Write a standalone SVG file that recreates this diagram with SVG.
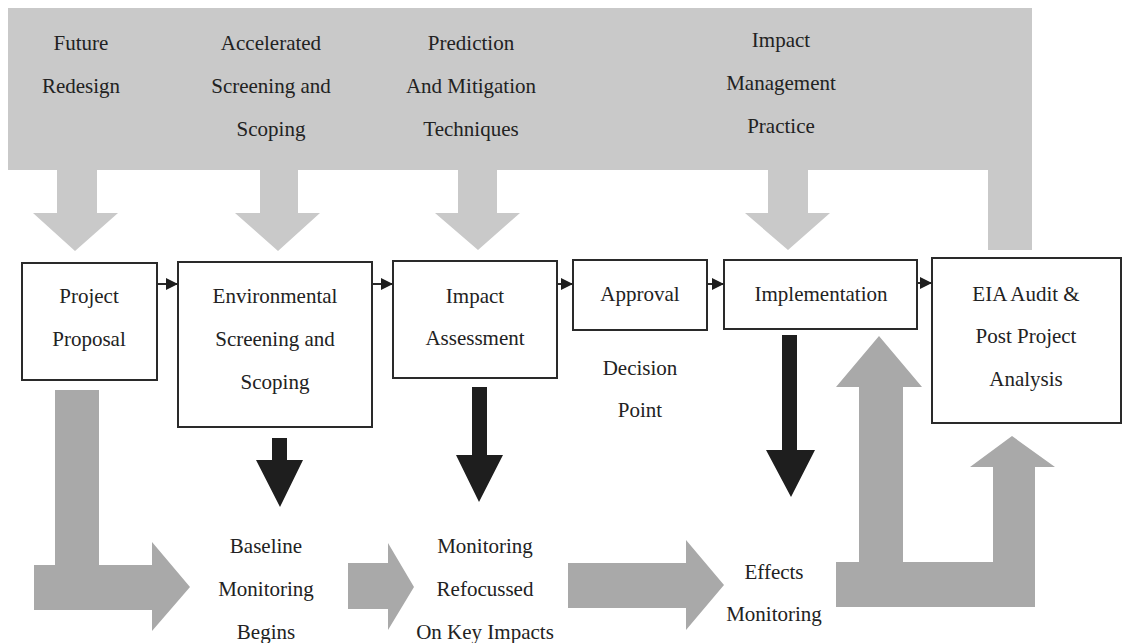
<svg xmlns="http://www.w3.org/2000/svg" width="1123" height="643" viewBox="0 0 1123 643">
<style>
text{font-family:"Liberation Serif","Times New Roman",serif;font-size:21px;fill:#222;text-anchor:middle}
.box{fill:#fff;stroke:#2a2a2a;stroke-width:2}
.light{fill:#c9c9c9}
.mid{fill:#a9a9a9}
.dark{fill:#1e1e1e}
.conn{stroke:#2a2a2a;stroke-width:2;fill:none}
</style>
<defs>
<marker id="ah" viewBox="0 0 10 10" refX="10" refY="5" markerWidth="12" markerHeight="12" markerUnits="userSpaceOnUse" orient="auto">
<path d="M0,0 L10,5 L0,10 Z" fill="#1e1e1e"/>
</marker>
</defs>

<g id="feedback-band">
<path class="light" d="M8,8 H1032 V250 H988 V170 H8 Z"/>
<path class="light" d="M57,170 H97 V213 H118 L75,251 L33,213 H57 Z"/>
<path class="light" d="M260,170 H298 V213 H320 L278,251 L235,213 H260 Z"/>
<path class="light" d="M458,170 H497 V213 H520 L478,250 L435,213 H458 Z"/>
<path class="light" d="M768,170 H808 V213 H830 L788,250 L745,213 H768 Z"/>
<text x="81" y="50">Future</text>
<text x="81" y="93">Redesign</text>
<text x="271" y="50">Accelerated</text>
<text x="271" y="93">Screening and</text>
<text x="271" y="136">Scoping</text>
<text x="471" y="50">Prediction</text>
<text x="471" y="93">And Mitigation</text>
<text x="471" y="136">Techniques</text>
<text x="781" y="47">Impact</text>
<text x="781" y="90">Management</text>
<text x="781" y="133">Practice</text>
</g>

<g id="project-proposal">
<rect class="box" x="22" y="263" width="135" height="117"/>
<text x="89" y="303">Project</text>
<text x="89" y="346">Proposal</text>
</g>
<g id="screening">
<rect class="box" x="178" y="262" width="194" height="165"/>
<text x="275" y="303">Environmental</text>
<text x="275" y="346">Screening and</text>
<text x="275" y="389">Scoping</text>
</g>
<g id="impact-assessment">
<rect class="box" x="393" y="261" width="164" height="117"/>
<text x="475" y="303">Impact</text>
<text x="475" y="345">Assessment</text>
</g>
<g id="approval">
<rect class="box" x="573" y="260" width="134" height="70"/>
<text x="640" y="301">Approval</text>
</g>
<g id="decision-point">
<text x="640" y="375">Decision</text>
<text x="640" y="417">Point</text>
</g>
<g id="implementation">
<rect class="box" x="724" y="260" width="193" height="69"/>
<text x="821" y="301">Implementation</text>
</g>
<g id="eia-audit">
<rect class="box" x="932" y="258" width="189" height="165"/>
<text x="1026" y="301">EIA Audit &amp;</text>
<text x="1026" y="343">Post Project</text>
<text x="1026" y="386">Analysis</text>
</g>
<g id="baseline-monitoring">
<text x="266" y="553">Baseline</text>
<text x="266" y="596">Monitoring</text>
<text x="266" y="639">Begins</text>
</g>
<g id="monitoring-refocussed">
<text x="485" y="553">Monitoring</text>
<text x="485" y="596">Refocussed</text>
<text x="485" y="639">On Key Impacts</text>
</g>
<g id="effects-monitoring">
<text x="774" y="579">Effects</text>
<text x="774" y="621">Monitoring</text>
</g>

<g id="connectors">
<line class="conn" x1="157" y1="284" x2="178" y2="284" marker-end="url(#ah)"/>
<line class="conn" x1="372" y1="284" x2="393" y2="284" marker-end="url(#ah)"/>
<line class="conn" x1="557" y1="284" x2="573" y2="284" marker-end="url(#ah)"/>
<line class="conn" x1="707" y1="284" x2="724" y2="284" marker-end="url(#ah)"/>
<line class="conn" x1="917" y1="283" x2="932" y2="283" marker-end="url(#ah)"/>
<path class="dark" d="M272,438 H287 V460 H303 L280,507 L256,460 H272 Z"/>
<path class="dark" d="M472,387 H487 V455 H503 L479,502 L456,455 H472 Z"/>
<path class="dark" d="M782,335 H797 V450 H815 L791,497 L766,450 H782 Z"/>
<path class="mid" d="M55,390 H99 V565 H152 V542 L190,587 L152,631 V610 H34 V565 H55 Z"/>
<path class="mid" d="M348,563 H388 V543 L414,587 L388,630 V609 H348 Z"/>
<path class="mid" d="M568,563 H686 V540 L724,585 L686,630 V608 H568 Z"/>
<path class="mid" d="M836,607 V562 H859 V387 H836 L879,336 L922,387 H903 V562 H993 V467 H970 L1012,436 L1055,467 H1035 V607 Z"/>
</g>
</svg>
